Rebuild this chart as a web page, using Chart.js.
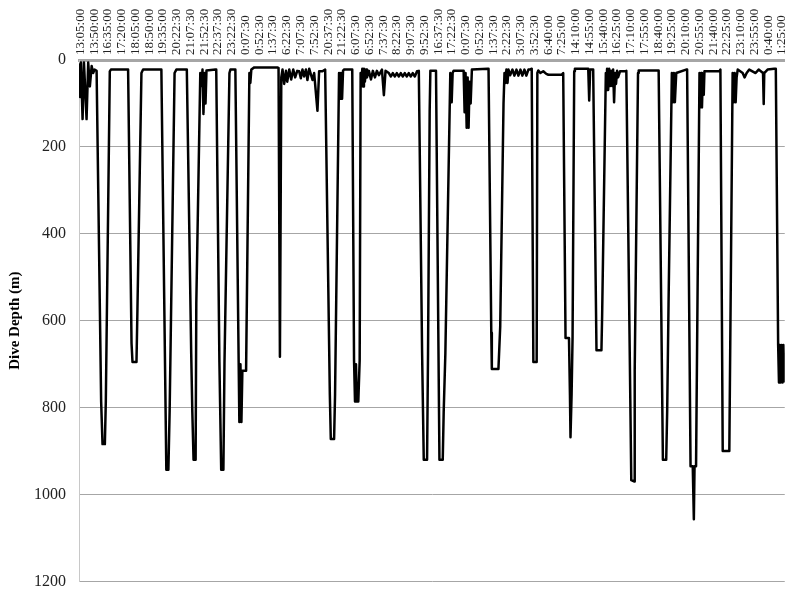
<!DOCTYPE html>
<html>
<head>
<meta charset="utf-8">
<title>Dive Depth</title>
<script src="https://cdn.jsdelivr.net/npm/chart.js@4.4.1/dist/chart.umd.min.js"></script>
<style>
  html, body { margin: 0; padding: 0; background: #fff; }
  #wrap { width: 787px; height: 591px; position: relative; }
</style>
</head>
<body>
<div id="wrap"><canvas id="diveChart"></canvas></div>
<script>
"use strict";

// Tidsetiketter längs övre axeln (en per 45 min i registreringen)
const timeLabels = [
    '13:05:00', '13:50:00', '16:35:00', '17:20:00', '18:05:00', '18:50:00', '19:35:00',
    '20:22:30', '21:07:30', '21:52:30', '22:37:30', '23:22:30', '0:07:30', '0:52:30',
    '1:37:30', '6:22:30', '7:07:30', '7:52:30', '20:37:30', '21:22:30', '6:07:30',
    '6:52:30', '7:37:30', '8:22:30', '9:07:30', '9:52:30', '16:37:30', '17:22:30',
    '0:07:30', '0:52:30', '1:37:30', '2:22:30', '3:07:30', '3:52:30', '6:40:00',
    '7:25:00', '14:10:00', '14:55:00', '15:40:00', '16:25:00', '17:10:00', '17:55:00',
    '18:40:00', '19:25:00', '20:10:00', '20:55:00', '21:40:00', '22:25:00', '23:10:00',
    '23:55:00', '0:40:00', '1:25:00'
];

// Position i registreringen, mätt i etikettsteg
const recordPos = [
    -0.12, -0.05, 0.02, 0.14, 0.24, 0.43, 0.55, 0.67, 0.80, 0.91, 1.01, 1.16,
    1.49, 1.59, 1.76, 1.83, 2.12, 2.20, 3.45,
    3.50, 3.70, 3.77, 4.06, 4.13, 4.42, 4.54, 5.87,
    5.91, 6.23, 6.38, 6.47, 6.83, 6.96, 7.72,
    8.04, 8.12, 8.21, 8.36, 8.41, 8.70, 8.79, 8.86, 8.93, 9.01, 9.08, 9.15, 9.80,
    9.86, 10.09, 10.22, 10.38, 10.46, 10.82, 10.89, 11.18,
    11.25, 11.49, 11.54, 11.62, 11.69, 11.76, 12.03, 12.27, 12.34, 12.41, 12.63, 14.30,
    14.39, 14.49, 14.59, 14.68, 14.80, 14.93, 15.02, 15.17, 15.31, 15.46, 15.60, 15.75,
    15.89, 16.01, 16.13, 16.25, 16.38, 16.49, 16.62, 16.86, 16.98, 17.22, 17.34, 17.58, 17.78,
    17.83, 18.12, 18.19, 18.43, 18.50, 18.79, 18.86, 18.93, 19.01, 19.08, 19.15, 19.71,
    19.75, 19.88, 19.95, 20.02, 20.09, 20.19, 20.29, 20.36, 20.42, 20.48, 20.54, 20.60,
    20.67, 20.75, 20.82, 20.96, 21.11, 21.25, 21.40, 21.54, 21.69, 21.91, 22.05, 22.17,
    22.41, 22.56, 22.70, 22.85, 22.99, 23.14, 23.28, 23.43, 23.57, 23.72, 23.86, 24.01,
    24.15, 24.30, 24.46,
    24.59, 24.83, 24.95, 25.19, 25.26, 25.38, 25.43, 25.75,
    25.84, 26.09, 26.33, 26.40, 26.52, 26.88, 26.98, 27.05, 27.12, 27.85, 27.92, 27.99,
    28.07, 28.14, 28.21, 28.28, 28.36, 28.45, 29.61,
    29.66, 29.86, 29.90, 30.38, 30.51, 30.75, 30.82, 30.89, 30.96, 31.04, 31.11, 31.23,
    31.40, 31.54, 31.69, 31.83, 31.98, 32.12, 32.27, 32.41, 32.56, 32.68,
    32.80, 32.92, 33.16, 33.21, 33.28, 33.43, 33.64, 33.86, 34.01, 34.97,
    35.09, 35.26, 35.51, 35.58, 35.62, 35.70, 35.77, 35.89, 35.94, 36.91, 36.98, 37.05, 37.27,
    37.29, 37.51, 37.87, 37.92, 38.19, 38.23, 38.28, 38.36, 38.43, 38.50, 38.57, 38.65,
    38.72, 38.79, 38.86, 38.93, 39.01, 39.08, 39.22, 39.61,
    39.68, 40.04, 40.24, 40.29, 40.53, 40.58, 41.98,
    42.03, 42.34, 42.58, 42.65, 42.75, 42.99, 43.07, 43.14, 43.21, 43.31, 44.03,
    44.10, 44.35, 44.51, 44.59, 44.64, 44.75, 45.00, 45.06, 45.12, 45.18, 45.24, 45.31, 45.36, 46.45,
    46.52, 46.69, 47.17, 47.41, 47.49, 47.56, 47.63, 47.70, 47.78, 48.14, 48.28, 48.43,
    48.62, 49.08, 49.30, 49.62, 49.67, 49.71, 49.95, 50.43,
    50.55, 50.72, 50.78, 50.84, 50.89, 50.97, 51.04, 51.11, 51.18
];

// Djup (m) vid varje position ovan
const diveDepth = [
    10, 85, 6, 136, 6, 136, 6, 61, 14, 30, 22, 25,
    786, 884, 884, 786, 26, 22, 22,
    22, 652, 695, 695, 573, 30, 22, 22,
    22, 943, 943, 809, 30, 22, 22,
    676, 809, 920, 920, 561, 30, 60, 22, 124, 30, 100, 24, 22,
    22, 695, 943, 943, 695, 30, 22, 22,
    22, 695, 833, 700, 833, 715, 715, 30, 53, 22, 17, 17,
    18, 683, 40, 22, 55, 25, 50, 22, 45, 22, 40, 25,
    26, 42, 22, 38, 22, 46, 20, 46, 30, 117, 26, 26, 22,
    22, 770, 872, 872, 770, 30, 89, 30, 89, 25, 22, 22,
    22, 691, 786, 700, 786, 786, 691, 30, 61, 20, 61, 20,
    50, 22, 40, 25, 45, 25, 40, 25, 35, 22, 81, 25,
    30, 38, 30, 38, 30, 38, 30, 38, 30, 38, 30, 38,
    30, 38, 26,
    25, 676, 920, 920, 676, 117, 25, 25,
    25, 920, 920, 809, 676, 30, 97, 30, 25, 25, 120, 30,
    156, 40, 156, 50, 100, 22, 20,
    20, 628, 711, 711, 613, 100, 30, 53, 22, 53, 22, 35,
    22, 36, 22, 36, 22, 36, 22, 36, 22, 22,
    20, 695, 695, 30, 24, 30, 26, 32, 34, 34,
    30, 640, 640, 770, 868, 770, 640, 26, 20, 20, 93, 22, 22,
    22, 668, 668, 589, 30, 69, 20, 69, 20, 60, 25, 60,
    22, 97, 30, 55, 25, 40, 26, 26,
    25, 967, 970, 715, 30, 24, 24,
    24, 920, 920, 809, 561, 30, 97, 30, 97, 30, 22,
    22, 935, 935, 1057, 935, 935, 30, 109, 30, 109, 40, 80, 26, 26,
    22, 900, 900, 30, 97, 30, 97, 40, 22, 30, 40, 30,
    22, 30, 22, 30, 101, 30, 22, 20,
    20, 656, 742, 656, 742, 656, 742, 656, 742
];

const depthTicks = [0, 200, 400, 600, 800, 1000, 1200];

window.onload = init;

function init() {
    const chartEl = document.getElementById('diveChart');
    const points = recordPos.map((x, i) => ({ x: x, y: diveDepth[i] }));

    new Chart(chartEl, {
        type: 'line',
        data: {
            datasets: [{
                label: 'Dive Depth',
                data: points,
                borderColor: '#000',
                borderWidth: 2.5,
                borderJoinStyle: 'round',
                pointRadius: 0,
                tension: 0,
                fill: false
            }]
        },
        options: {
            responsive: true,
            maintainAspectRatio: false,
            animation: false,
            layout: { padding: { left: 6, right: 0, top: 0, bottom: 0 } },
            plugins: {
                legend: { display: false },
                tooltip: { enabled: false }
            },
            scales: {
                x: {
                    type: 'linear',
                    position: 'top',
                    min: -0.12,
                    max: 51.2,
                    afterFit: (scale) => { scale.height = 60; },
                    grid: { display: false, drawTicks: false },
                    border: { display: true, color: '#a6a6a6', width: 3 },
                    ticks: {
                        stepSize: 1,
                        autoSkip: false,
                        includeBounds: false,
                        minRotation: 90,
                        maxRotation: 90,
                        padding: 5,
                        labelOffset: 15.5,
                        color: '#222',
                        font: { family: 'Liberation Serif', size: 13 },
                        callback: (v) => Number.isInteger(v) ? (timeLabels[v] ?? '') : ''
                    }
                },
                y: {
                    reverse: true,
                    min: 0,
                    max: 1200,
                    afterFit: (scale) => { scale.width = 73; },
                    afterBuildTicks: (scale) => { scale.ticks = depthTicks.map(v => ({ value: v })); },
                    grid: {
                        color: '#a6a6a6',
                        lineWidth: 1,
                        drawTicks: true,
                        tickLength: 13,
                        tickColor: 'rgba(0,0,0,0)'
                    },
                    border: { display: true, color: '#c8c8c8', width: 1 },
                    title: {
                        display: true,
                        text: 'Dive Depth (m)',
                        color: '#000',
                        padding: { top: 0, bottom: 10 },
                        font: { family: 'Liberation Serif', size: 15, weight: 'bold' }
                    },
                    ticks: {
                        padding: 0,
                        color: '#222',
                        font: { family: 'Liberation Serif', size: 16 },
                        callback: (v) => String(v)
                    }
                }
            }
        }
    });
}
</script>
</body>
</html>
